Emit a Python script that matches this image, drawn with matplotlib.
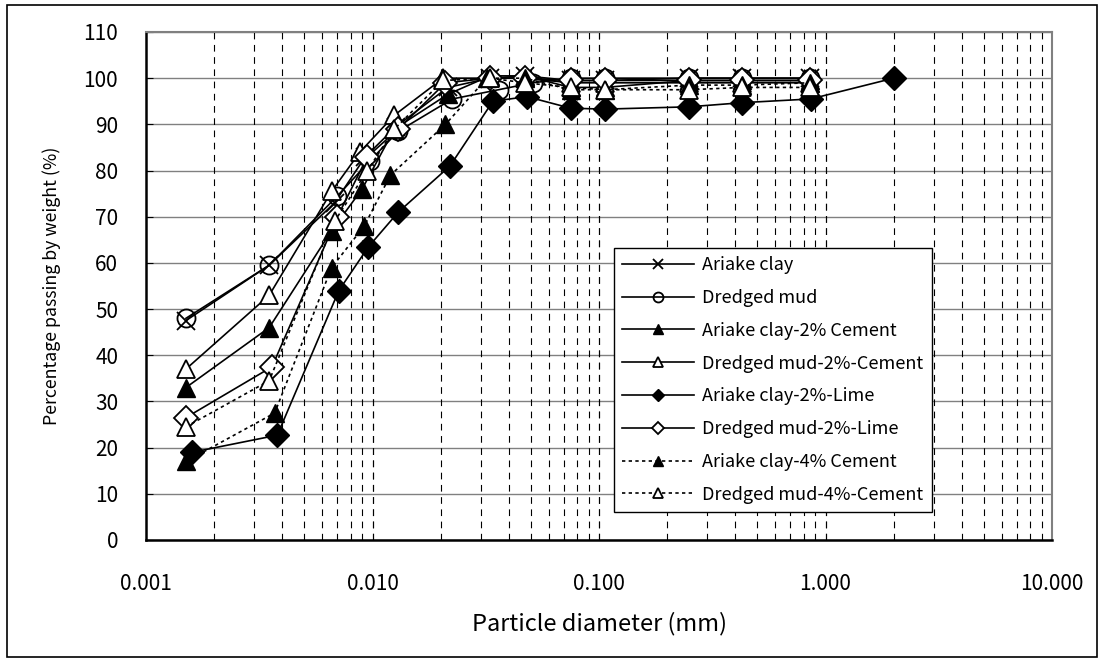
import matplotlib
matplotlib.use("Agg")
import matplotlib.pyplot as plt
from matplotlib.patches import Rectangle
from matplotlib.ticker import FixedLocator, FixedFormatter, NullFormatter

plt.rcParams['font.family'] = ['Noto Sans CJK JP', 'DejaVu Sans']

# ---- data ----
x_ariake = [0.0015, 0.0035, 0.0068, 0.0093, 0.0127, 0.0215, 0.033, 0.047, 0.075, 0.106, 0.25, 0.43, 0.85]
y_ariake = [47.5, 59.5, 73, 83, 89.5, 98, 100, 100.5, 99.5, 99.5, 100, 100, 100]

x_dredged = [0.0015, 0.0035, 0.0070, 0.0097, 0.013, 0.0225, 0.036, 0.051, 0.075, 0.106, 0.25, 0.43, 0.85]
y_dredged = [48, 59.5, 74.5, 82, 88.5, 95.5, 97.5, 99, 100, 100, 100, 100, 100]

x_ac2c = [0.0015, 0.0035, 0.0066, 0.009, 0.0125, 0.0215, 0.033, 0.047, 0.075, 0.106, 0.25, 0.43, 0.85]
y_ac2c = [33, 46, 67, 76, 89, 96.5, 100.5, 100.5, 98, 98, 99.5, 99.5, 99.5]

x_dm2c = [0.0015, 0.0035, 0.0066, 0.0088, 0.0125, 0.0205, 0.033, 0.047, 0.075, 0.106, 0.25, 0.43, 0.85]
y_dm2c = [37, 53, 75.5, 84, 92, 100, 100, 100, 99, 99, 99, 99, 99]

x_ac2l = [0.0016, 0.0038, 0.0071, 0.0096, 0.013, 0.022, 0.034, 0.048, 0.075, 0.106, 0.25, 0.43, 0.86, 2.0]
y_ac2l = [19, 22.7, 54, 63.5, 71, 81, 95, 96, 93.5, 93.3, 93.8, 94.7, 95.5, 100]

x_dm2l = [0.0015, 0.0036, 0.0070, 0.0095, 0.013, 0.021, 0.033, 0.047, 0.075, 0.106, 0.25, 0.43, 0.85]
y_dm2l = [26.5, 37.5, 70, 83, 89, 99, 100, 100, 99.5, 99.5, 99.5, 99.5, 99.5]

x_ac4c = [0.0015, 0.0037, 0.0066, 0.0092, 0.012, 0.021, 0.032, 0.047, 0.075, 0.106, 0.25, 0.43, 0.85]
y_ac4c = [17, 27.5, 59, 68, 79, 90, 100, 100, 97.5, 97.5, 98.5, 98.5, 99]

x_dm4c = [0.0015, 0.0035, 0.0068, 0.0095, 0.0125, 0.0205, 0.033, 0.047, 0.075, 0.106, 0.25, 0.43, 0.85]
y_dm4c = [24.5, 34.5, 69, 80, 89, 99.5, 100, 99, 98, 97.5, 97.5, 98, 98]

labels = ["Ariake clay", "Dredged mud", "Ariake clay-2% Cement", "Dredged mud-2%-Cement",
          "Ariake clay-2%-Lime", "Dredged mud-2%-Lime", "Ariake clay-4% Cement", "Dredged mud-4%-Cement"]

x_ticks = [0.001, 0.01, 0.1, 1, 10]
x_ticklabels = ["0.001", "0.010", "0.100", "1.000", "10.000"]
y_ticks = list(range(0, 111, 10))

# ---- figure ----
fig = plt.figure(figsize=(11.04, 6.62), dpi=100)
fig.patches.append(Rectangle((7/1104, 5/662), (1097-7)/1104, (657-5)/662, transform=fig.transFigure,
                             fill=False, edgecolor='black', linewidth=1.2, zorder=0))
ax = fig.add_axes([146/1104, 122/662, 906/1104, 508/662])

ax.set_xscale('log')
ax.set_xlim(0.001, 10)
ax.set_ylim(0, 110)

# grid: horizontal solid gray, vertical dashed black
for yv in y_ticks:
    ax.axhline(yv, color='#808080', linewidth=1.0, zorder=1)
for dec in [0.001, 0.01, 0.1, 1]:
    for m in range(1, 11):
        xv = dec * m
        if xv <= 0.001 or xv >= 10:
            continue
        ax.axvline(xv, color='black', linewidth=0.8, linestyle=(0, (6, 5)), zorder=1)

lw = 1.2
ms = 13
common = dict(color='black', linewidth=lw, zorder=3)
ax.plot(x_ariake, y_ariake, marker='x', markersize=ms, markeredgewidth=1.3, label=labels[0], **common)
ax.plot(x_dredged, y_dredged, marker='o', markersize=ms, markerfacecolor='none', markeredgewidth=1.3,
        label=labels[1], **common)
ax.plot(x_ac2c, y_ac2c, marker='^', markersize=ms, markerfacecolor='black', label=labels[2], **common)
ax.plot(x_dm2c, y_dm2c, marker='^', markersize=ms, markerfacecolor='white', markeredgewidth=1.3,
        label=labels[3], **common)
ax.plot(x_ac2l, y_ac2l, marker='D', markersize=ms - 1, markerfacecolor='black', label=labels[4], **common)
ax.plot(x_dm2l, y_dm2l, marker='D', markersize=ms - 1, markerfacecolor='white', markeredgewidth=1.3,
        label=labels[5], **common)
ax.plot(x_ac4c, y_ac4c, marker='^', markersize=ms, markerfacecolor='black', linestyle=(0, (2, 2)),
        label=labels[6], **common)
ax.plot(x_dm4c, y_dm4c, marker='^', markersize=ms, markerfacecolor='white', markeredgewidth=1.3,
        linestyle=(0, (2, 2)), label=labels[7], **common)

ax.xaxis.set_major_locator(FixedLocator(x_ticks))
ax.xaxis.set_major_formatter(FixedFormatter(x_ticklabels))
ax.xaxis.set_minor_formatter(NullFormatter())
ax.set_yticks(y_ticks)
ax.tick_params(axis='x', which='both', length=0, labelsize=15, pad=24)
ax.tick_params(axis='y', which='both', direction='in', length=5, labelsize=15, pad=20)

for side in ['left', 'bottom']:
    ax.spines[side].set_color('black')
    ax.spines[side].set_linewidth(1.8)
for side in ['top', 'right']:
    ax.spines[side].set_color('#808080')
    ax.spines[side].set_linewidth(1.5)

ax.set_xlabel("Particle diameter (mm)", fontsize=17, labelpad=12)
ax.set_ylabel("Percentage passing by weight (%)", fontsize=12.8, labelpad=16)

leg = ax.legend(loc='upper left', bbox_to_anchor=((614-146)/906, (540-248)/508),
                fontsize=13, markerscale=0.55, handlelength=4.0, frameon=True, fancybox=False,
                edgecolor='black', framealpha=1.0, borderpad=0.45, labelspacing=0.82,
                handletextpad=0.45, borderaxespad=0)
leg.get_frame().set_linewidth(1.0)
leg.set_zorder(5)

fig.savefig("out.png", dpi=100)
